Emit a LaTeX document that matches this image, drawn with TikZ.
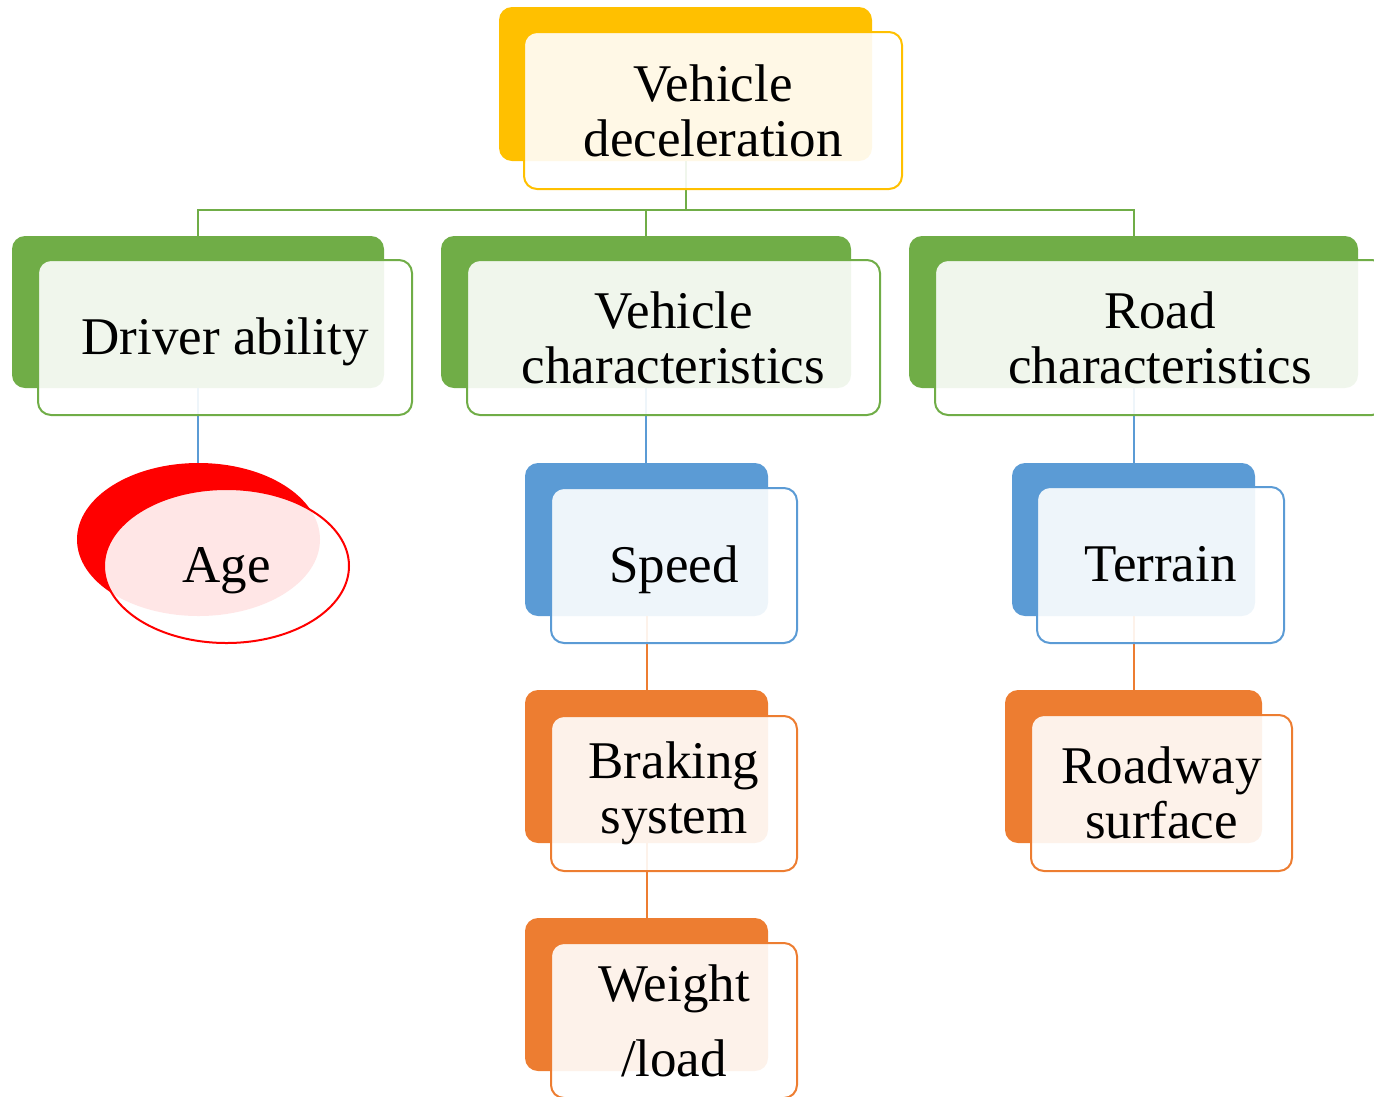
\documentclass[tikz,border=0pt]{standalone}
\usepackage{fontspec}
\setmainfont{Liberation Serif}
\usetikzlibrary{shapes.geometric}
\definecolor{cgold}{HTML}{FFC000}
\definecolor{cgreen}{HTML}{70AD47}
\definecolor{cblue}{HTML}{5B9BD5}
\definecolor{corange}{HTML}{ED7D31}
\definecolor{cred}{HTML}{FF0000}
\begin{document}
\begin{tikzpicture}[x=1pt,y=-1pt,
  backbox/.style={rectangle, rounded corners=13pt, inner sep=0pt, outer sep=0pt, fill=#1, draw=none},
  frontbox/.style={rectangle, rounded corners=13pt, inner sep=0pt, outer sep=0pt, draw=#1, line width=2pt,
    fill=white, fill opacity=0.9, draw opacity=1, text opacity=1, align=center,
    font=\fontsize{53}{55}\selectfont},
  backell/.style={ellipse, inner sep=0pt, outer sep=0pt, fill=#1, draw=none},
  frontell/.style={ellipse, inner sep=0pt, outer sep=0pt, draw=#1, line width=2pt,
    fill=white, fill opacity=0.9, draw opacity=1, text opacity=1, align=center,
    font=\fontsize{53}{55}\selectfont},
  oneline/.style={text height=37pt, text depth=4pt},
  conn/.style={draw=#1, line width=2pt}]
\useasboundingbox (0,0) rectangle (1374,1096);
\clip (0,0) rectangle (1374,1096);

% back shapes
\node[backbox=cgold, minimum width=373pt, minimum height=154pt] (topb) at (685.5,84) {};
\node[backbox=cgreen, minimum width=372pt, minimum height=152pt] (drvb) at (198,312) {};
\node[backbox=cgreen, minimum width=410pt, minimum height=152pt] (vchb) at (646,312) {};
\node[backbox=cgreen, minimum width=449pt, minimum height=152pt] (rchb) at (1133.5,312) {};
\node[backell=cred, minimum width=243pt, minimum height=153pt] (ageb) at (198.5,539.5) {};
\node[backbox=cblue, minimum width=243pt, minimum height=153pt] (spdb) at (646.5,539.5) {};
\node[backbox=cblue, minimum width=243pt, minimum height=153pt] (terb) at (1133.5,539.5) {};
\node[backbox=corange, minimum width=243pt, minimum height=153pt] (brkb) at (646.5,766.5) {};
\node[backbox=corange, minimum width=257pt, minimum height=153pt] (rdwb) at (1133.5,766.5) {};
\node[backbox=corange, minimum width=243pt, minimum height=153pt] (wgtb) at (646.5,994.5) {};

% connectors
\coordinate (hub) at (685.5,210);
\draw[conn=cgreen] (topb.south) -- (hub);
\draw[conn=cgreen] (hub) -| (drvb.north);
\draw[conn=cgreen] (hub) -| (vchb.north);
\draw[conn=cgreen] (hub) -| (rchb.north);
\draw[conn=cblue] (drvb.south) -- (drvb.south |- ageb.north);
\draw[conn=cblue] (vchb.south) -- (vchb.south |- spdb.north);
\draw[conn=cblue] (rchb.south) -- (rchb.south |- terb.north);
\draw[conn=corange] (spdb.south) -- (brkb.north);
\draw[conn=corange] (brkb.south) -- (wgtb.north);
\draw[conn=corange] (terb.south) -- (rdwb.north);

% front shapes
\node[frontbox=cgold, minimum width=378pt, minimum height=157pt] (topf) at (713,110.5) {Vehicle\\deceleration};
\node[frontbox=cgreen, oneline, minimum width=374pt, minimum height=155pt] (drvf) at (225,337.5) {Driver ability};
\node[frontbox=cgreen, minimum width=413pt, minimum height=155pt] (vchf) at (673.5,337.5) {Vehicle\\characteristics};
\node[frontbox=cgreen, minimum width=450pt, minimum height=155pt] (rchf) at (1160,337.5) {Road\\characteristics};
\node[frontell=cred, oneline, minimum width=245pt, minimum height=154pt] (agef) at (226.5,566) {Age};
\node[frontbox=cblue, oneline, minimum width=246pt, minimum height=155pt] (spdf) at (674,565.5) {Speed};
\node[frontbox=cblue, oneline, minimum width=247pt, minimum height=156pt] (terf) at (1160.5,565) {Terrain};
\node[frontbox=corange, minimum width=246pt, minimum height=155pt] (brkf) at (674,793.5) {Braking\\system};
\node[frontbox=corange, minimum width=261pt, minimum height=156pt] (rdwf) at (1161.5,793) {Roadway\\surface};
\node[frontbox=corange, minimum width=246pt, minimum height=155pt] (wgtf) at (674,1020.5) {Weight\\[20pt]/load};
\end{tikzpicture}
\end{document}
